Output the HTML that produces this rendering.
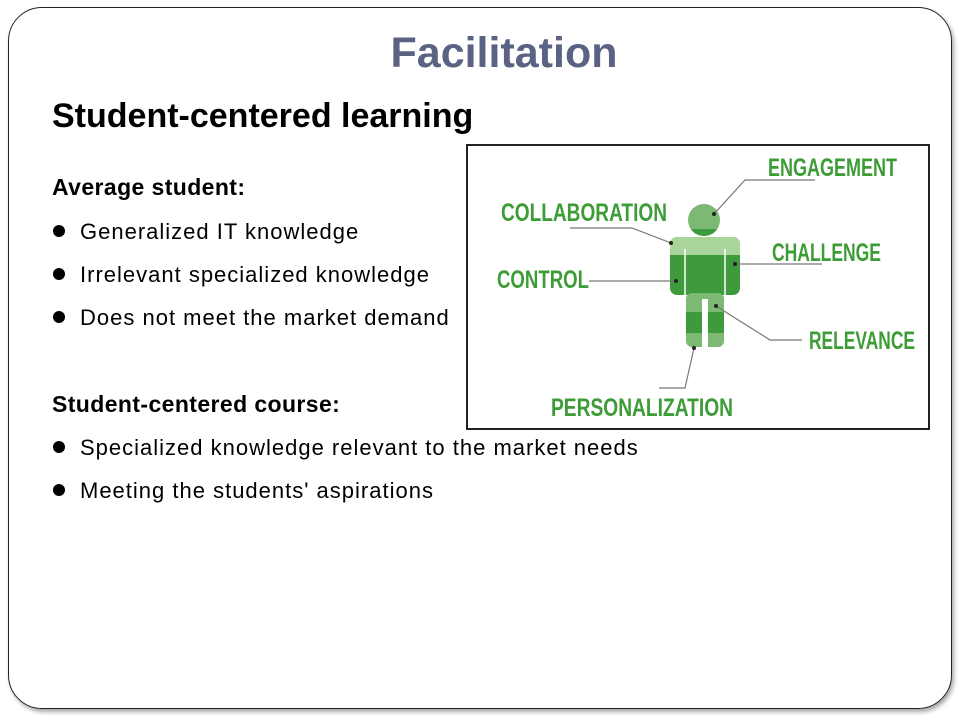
<!DOCTYPE html>
<html><head><meta charset="utf-8"><style>
html,body{margin:0;padding:0;background:#fff;width:960px;height:720px;overflow:hidden;font-family:"Liberation Sans",Arial,sans-serif}
.frame{position:absolute;left:8px;top:7px;width:944px;height:702px;border:1.5px solid #222;border-radius:34px;box-sizing:border-box;box-shadow:2px 3px 4px rgba(0,0,0,0.35)}
.t{position:absolute;white-space:nowrap;color:#000;line-height:1}
.n{font-size:22px;letter-spacing:1px;left:80px}
.h{font-size:23px;font-weight:bold;left:52px;letter-spacing:0.4px}
.b{position:absolute;left:53px;width:12px;height:12px;border-radius:50%;background:#000}
</style></head><body>
<div class="frame"></div>
<div class="t" style="left:0;width:1008px;text-align:center;top:32px;font-size:43px;font-weight:bold;color:#5b6384">Facilitation</div>
<div class="t" style="left:52px;top:99px;font-size:34px;font-weight:bold">Student-centered learning</div>
<div class="t h" style="top:176px">Average student:</div>
<div class="b" style="top:225px"></div><div class="t n" style="top:221px">Generalized IT knowledge</div>
<div class="b" style="top:268px"></div><div class="t n" style="top:264px">Irrelevant specialized knowledge</div>
<div class="b" style="top:311px"></div><div class="t n" style="top:307px">Does not meet the market demand</div>
<div class="t h" style="top:393px">Student-centered course:</div>
<div class="b" style="top:441px"></div><div class="t n" style="top:437px">Specialized knowledge relevant to the market needs</div>
<div class="b" style="top:484px"></div><div class="t n" style="top:480px">Meeting the students' aspirations</div>
<svg style="position:absolute;left:0;top:0" width="960" height="720">
<defs><clipPath id="hc"><circle cx="704" cy="220" r="16"/></clipPath></defs>
<rect x="467" y="145" width="462" height="284" fill="#fff" stroke="#222" stroke-width="2"/>
<g>
<circle cx="704" cy="220" r="16" fill="#7cba73"/>
<rect x="686" y="229" width="36" height="10" fill="#3f9a3b" clip-path="url(#hc)"/>
<rect x="670" y="237" width="70" height="58" rx="7" fill="#3f9a3b"/>
<rect x="670" y="237" width="70" height="18" rx="7" fill="#a9d49a"/>
<rect x="670" y="245" width="70" height="10" fill="#a9d49a"/>
<rect x="686" y="293" width="38" height="54" rx="6" fill="#7cba73"/>
<rect x="686" y="312" width="38" height="21" fill="#3f9a3b"/>
<line x1="685" y1="249" x2="685" y2="296" stroke="#fff" stroke-width="1.5"/>
<line x1="725" y1="249" x2="725" y2="296" stroke="#fff" stroke-width="1.5"/>
<rect x="702" y="299" width="6" height="50" fill="#fff"/>
</g>
<g stroke="#777" stroke-width="1.2" fill="none">
<polyline points="714,214 745,180 815,180"/>
<polyline points="570,228 632,228 671,243"/>
<polyline points="735,264 822,264"/>
<polyline points="589,281 676,281"/>
<polyline points="716,306 770,340 802,340"/>
<polyline points="694,348 685,388 659,388"/>
</g>
<g fill="#222"><circle cx="714" cy="214" r="2"/><circle cx="671" cy="243" r="2"/><circle cx="735" cy="264" r="2"/><circle cx="676" cy="281" r="2"/><circle cx="716" cy="306" r="2"/><circle cx="694" cy="348" r="2"/></g>
<g fill="#3c9c35" font-family="Liberation Sans Narrow,Liberation Sans,sans-serif" font-weight="bold" font-size="25">
<text x="768" y="176" textLength="129" lengthAdjust="spacingAndGlyphs">ENGAGEMENT</text>
<text x="501" y="221" textLength="166" lengthAdjust="spacingAndGlyphs">COLLABORATION</text>
<text x="772" y="261" textLength="109" lengthAdjust="spacingAndGlyphs">CHALLENGE</text>
<text x="497" y="288" textLength="92" lengthAdjust="spacingAndGlyphs">CONTROL</text>
<text x="809" y="349" textLength="106" lengthAdjust="spacingAndGlyphs">RELEVANCE</text>
<text x="551" y="416" textLength="182" lengthAdjust="spacingAndGlyphs">PERSONALIZATION</text>
</g>
</svg>
</body></html>
